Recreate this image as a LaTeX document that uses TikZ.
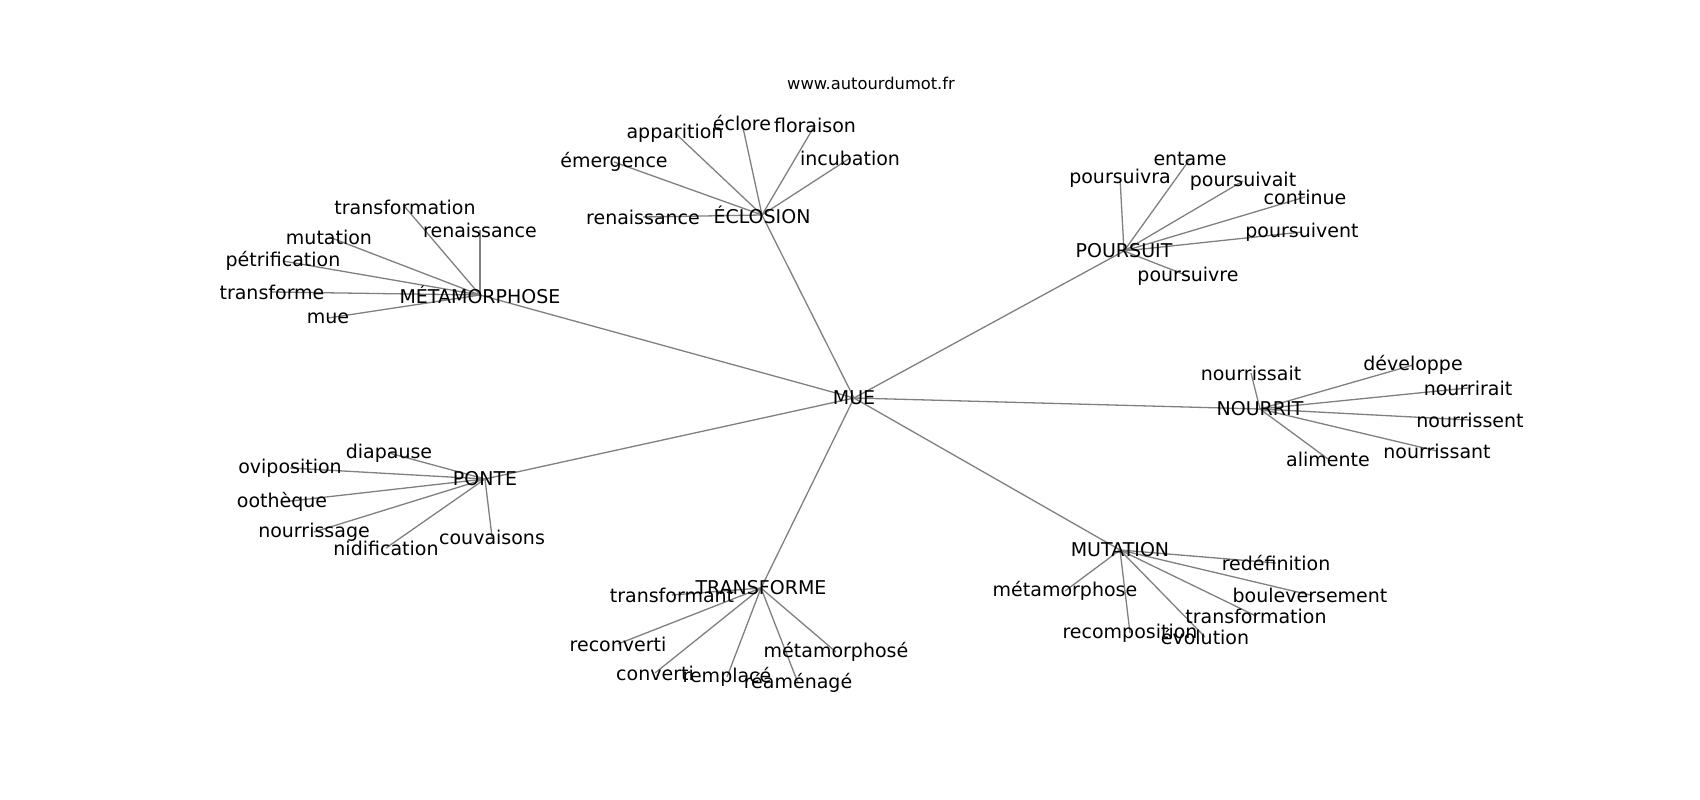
\documentclass[tikz,border=0pt]{standalone}
\usepackage{fontspec}
\setmainfont{DejaVu Sans}
\pgfdeclarelayer{background}
\pgfsetlayers{background,main}
\begin{document}
\begin{tikzpicture}[x=1pt,y=-1pt,
  lbl/.style={inner sep=0pt,font=\fontsize{19}{23}\selectfont,text=black},
  ttl/.style={inner sep=0pt,font=\fontsize{16.3}{20}\selectfont,text=black},
  edge/.style={draw=black!50,line width=1.3pt}]
\useasboundingbox (0,0) rectangle (1700,800);
\node[ttl] (title) at (871,83) {www.autourdumot.fr};
% hubs
\node[lbl] (mue) at (854,398) {MUE};
\node[lbl] (eclosion) at (762,215) {ÉCLOSION};
\node[lbl] (metam) at (480,295) {MÉTAMORPHOSE};
\node[lbl] (poursuit) at (1124,251) {POURSUIT};
\node[lbl] (nourrit) at (1260,409) {NOURRIT};
\node[lbl] (ponte) at (485,479) {PONTE};
\node[lbl] (transf) at (761,588) {TRANSFORME};
\node[lbl] (mutation) at (1120,550) {MUTATION};
% eclosion leaves
\node[lbl] (e1) at (643,217) {renaissance};
\node[lbl] (e2) at (614,162) {émergence};
\node[lbl] (e3) at (675,133) {apparition};
\node[lbl] (e4) at (742,123) {éclore};
\node[lbl] (e5) at (815,125) {floraison};
\node[lbl] (e6) at (850,158) {incubation};
% metamorphose leaves
\node[lbl] (m1) at (405,207) {transformation};
\node[lbl] (m2) at (480,230) {renaissance};
\node[lbl] (m3) at (329,237) {mutation};
\node[lbl] (m4) at (283,261) {pétrification};
\node[lbl] (m5) at (272,292) {transforme};
\node[lbl] (m6) at (328,318) {mue};
% poursuit leaves
\node[lbl] (p1) at (1120,178) {poursuivra};
\node[lbl] (p2) at (1190,159) {entame};
\node[lbl] (p3) at (1243,181) {poursuivait};
\node[lbl] (p4) at (1305,197) {continue};
\node[lbl] (p5) at (1302,232) {poursuivent};
\node[lbl] (p6) at (1188,276) {poursuivre};
% nourrit leaves
\node[lbl] (n1) at (1251,373) {nourrissait};
\node[lbl] (n2) at (1413,365) {développe};
\node[lbl] (n3) at (1468,388) {nourrirait};
\node[lbl] (n4) at (1470,420) {nourrissent};
\node[lbl] (n5) at (1437,451) {nourrissant};
\node[lbl] (n6) at (1328,459) {alimente};
% ponte leaves
\node[lbl] (o1) at (389,453) {diapause};
\node[lbl] (o2) at (290,468) {oviposition};
\node[lbl] (o3) at (282,502) {oothèque};
\node[lbl] (o4) at (314,532) {nourrissage};
\node[lbl] (o5) at (386,548) {nidification};
\node[lbl] (o6) at (492,537) {couvaisons};
% transforme leaves
\node[lbl] (t1) at (672,595) {transformant};
\node[lbl] (t2) at (618,644) {reconverti};
\node[lbl] (t3) at (655,673) {converti};
\node[lbl] (t4) at (727,677) {remplacé};
\node[lbl] (t5) at (798,683) {réaménagé};
\node[lbl] (t6) at (836,652) {métamorphosé};
% mutation leaves
\node[lbl] (u1) at (1276,563) {redéfinition};
\node[lbl] (u2) at (1065,591) {métamorphose};
\node[lbl] (u3) at (1310,595) {bouleversement};
\node[lbl] (u4) at (1256,616) {transformation};
\node[lbl] (u5) at (1130,633) {recomposition};
\node[lbl] (u6) at (1205,637) {évolution};
\begin{pgfonlayer}{background}
\fill[white] (0,0) rectangle (1700,800);
\foreach \h in {eclosion,metam,poursuit,nourrit,ponte,transf,mutation}
  \draw[edge] (mue.center) -- (\h.center);
\foreach \l in {e1,e2,e3,e4,e5,e6} \draw[edge] (eclosion.center) -- (\l.center);
\foreach \l in {m1,m2,m3,m4,m5,m6} \draw[edge] (metam.center) -- (\l.center);
\foreach \l in {p1,p2,p3,p4,p5,p6} \draw[edge] (poursuit.center) -- (\l.center);
\foreach \l in {n1,n2,n3,n4,n5,n6} \draw[edge] (nourrit.center) -- (\l.center);
\foreach \l in {o1,o2,o3,o4,o5,o6} \draw[edge] (ponte.center) -- (\l.center);
\foreach \l in {t1,t2,t3,t4,t5,t6} \draw[edge] (transf.center) -- (\l.center);
\foreach \l in {u1,u2,u3,u4,u5,u6} \draw[edge] (mutation.center) -- (\l.center);
\end{pgfonlayer}
\end{tikzpicture}
\end{document}
